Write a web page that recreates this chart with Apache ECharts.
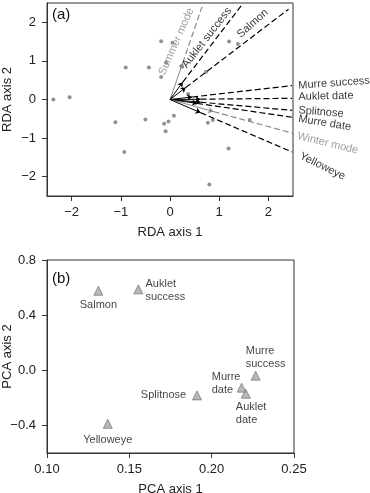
<!DOCTYPE html>
<html>
<head>
<meta charset="utf-8">
<script src="https://cdn.jsdelivr.net/npm/echarts@6/dist/echarts.min.js"></script>
<style>html,body{margin:0;padding:0;background:#fff}#c{width:370px;height:493px}</style>
</head>
<body>
<div id="c"></div>
<script>
// ---- Panel (a): RDA site scores ----
const siteX = [-2.37,-2.04,-0.90,-0.43,-0.18,0.05,-0.08,-0.18,0.24,1.20,1.38,0.73,0.37,-1.11,-0.93,-0.50,-0.12,-0.03,-0.09,0.08,0.77,0.87,1.62,1.19,0.80];
const siteY = [0.00,0.06,0.83,0.83,1.51,1.47,0.95,0.58,0.85,1.50,1.44,0.71,0.14,-0.59,-1.36,-0.52,-0.63,-0.57,-0.82,-0.42,-0.60,-0.53,-0.53,-1.27,-2.20];

// ---- Panel (a): RDA vectors ----
const vecNames  = ['Summer mode','Auklet success','Salmon','Murre success','Auklet date','Splitnose','Murre date','Winter mode','Yelloweye'];
const vecArrowX = [0.26, 0.26, 0.32, 0.45, 0.62, 0.62, 0.55, 0.88, 0.62];
const vecArrowY = [0.95, 0.45, 0.31, 0.065, 0.008, -0.07, -0.10, -0.31, -0.34];
const vecEndX   = [0.65, 1.46, 2.41, 2.48, 2.48, 2.48, 2.48, 2.48, 2.48];
const vecEndY   = [2.40, 2.45, 2.34, 0.36, 0.03, -0.28, -0.46, -0.87, -1.36];

const rdaXTicks = [-2,-1,0,1,2];
const rdaYTicks = [-2,-1,0,1,2];

// ---- Panel (b): PCA loadings ----
const pcaNames = ['Salmon','Auklet success','Murre success','Murre date','Auklet date','Splitnose','Yelloweye'];
const pcaX = [0.1312, 0.1555, 0.2267, 0.2182, 0.2207, 0.1911, 0.1369];
const pcaY = [0.577, 0.587, -0.039, -0.126, -0.170, -0.182, -0.388];
const pcaXTicks = [0.10,0.15,0.20,0.25];
const pcaYTicks = [-0.4,0.0,0.4,0.8];

// ---- layout/style (not data) ----
const FONT = 'Liberation Sans, Arial, sans-serif';
const grayVec = ['Summer mode','Winter mode'];
const vecColor = n => grayVec.includes(n) ? '#888' : '#000';
const vecLabelLayout = {
  'Summer mode':    {x:0.13, y:1.50, rot:66, align:'center'},
  'Auklet success': {x:0.75, y:1.60, rot:52, align:'center'},
  'Salmon':         {x:1.68, y:1.97, rot:42, align:'center'},
  'Murre success':  {x:2.61, y:0.36, rot:4,  align:'left'},
  'Auklet date':    {x:2.61, y:0.065,rot:1.5,align:'left'},
  'Splitnose':      {x:2.61, y:-0.28,rot:-4.5,align:'left'},
  'Murre date':     {x:2.61, y:-0.50,rot:-9, align:'left'},
  'Winter mode':    {x:2.59, y:-0.94,rot:-14,align:'left'},
  'Yelloweye':      {x:2.65, y:-1.45,rot:-26,align:'left'}
};
const pcaLabelLayout = {
  'Salmon':         {text:'Salmon', position:'bottom', distance:3, align:'center'},
  'Auklet success': {text:'Auklet\nsuccess', position:[12,-7], align:'left', verticalAlign:'top'},
  'Murre success':  {text:'Murre\nsuccess', position:[-5,-26], align:'left', verticalAlign:'top'},
  'Murre date':     {text:'Murre\ndate', position:[-25,-12], align:'left', verticalAlign:'top'},
  'Auklet date':    {text:'Auklet\ndate', position:[-5,12], align:'left', verticalAlign:'top'},
  'Splitnose':      {text:'Splitnose', position:'left', distance:6, align:'right'},
  'Yelloweye':      {text:'Yelloweye', position:'bottom', distance:5, align:'center'}
};

const minus = s => String(s).replace('-', '\u2212');

const axisCommon = {
  axisLine:{show:true, onZero:false, lineStyle:{color:'#333', width:1}},
  splitLine:{show:false},
  nameLocation:'middle',
  nameMoveOverlap:false,
  nameTextStyle:{fontFamily:FONT, fontSize:13, color:'#222'}
};

const chart = echarts.init(document.getElementById('c'), null, {renderer:'canvas'});

const dashedData = vecNames.map((n,i)=>({coords:[[vecArrowX[i],vecArrowY[i]],[vecEndX[i],vecEndY[i]]], lineStyle:{color:vecColor(n)}}));
const arrowData = vecNames.map((n,i)=>({coords:[[0,0],[vecArrowX[i],vecArrowY[i]]], lineStyle:{color:vecColor(n)}}));
const vecLabelData = vecNames.map(n=>{
  const L = vecLabelLayout[n];
  return {value:[L.x,L.y], label:{show:true, formatter:n, rotate:L.rot, align:L.align, verticalAlign:'middle', position:'inside', color:vecColor(n)}};
});
const pcaData = pcaNames.map((n,i)=>{
  const L = pcaLabelLayout[n];
  const lab = {show:true, formatter:L.text, position:L.position, align:L.align};
  if (L.distance !== undefined) lab.distance = L.distance;
  if (L.verticalAlign) lab.verticalAlign = L.verticalAlign;
  return {value:[pcaX[i],pcaY[i]], label:lab};
});

chart.setOption({
  animation:false,
  textStyle:{fontFamily:FONT},
  grid:[
    {left:47, top:3, width:246, height:193, show:true, borderColor:'#333', borderWidth:1, backgroundColor:'transparent', containLabel:false, outerBoundsMode:'none'},
    {left:47, top:260, width:247, height:193, show:true, borderColor:'#333', borderWidth:1, backgroundColor:'transparent', containLabel:false, outerBoundsMode:'none'}
  ],
  xAxis:[
    Object.assign({}, axisCommon, {gridIndex:0, type:'value', min:-2.5, max:2.5, name:'RDA axis 1', nameGap:30,
      axisTick:{show:true, length:5, customValues:rdaXTicks, lineStyle:{color:'#333'}},
      axisLabel:{fontFamily:FONT, fontSize:13, color:'#222', margin:10, customValues:rdaXTicks, formatter:v=>minus(v)}}),
    Object.assign({}, axisCommon, {gridIndex:1, type:'value', min:0.10, max:0.25, name:'PCA axis 1', nameGap:30,
      axisTick:{show:true, length:5, customValues:pcaXTicks, lineStyle:{color:'#333'}},
      axisLabel:{fontFamily:FONT, fontSize:13, color:'#222', margin:10, customValues:pcaXTicks, formatter:v=>v.toFixed(2)}})
  ],
  yAxis:[
    Object.assign({}, axisCommon, {gridIndex:0, type:'value', min:-2.5, max:2.5, name:'RDA axis 2', nameGap:33,
      axisTick:{show:true, length:5, customValues:rdaYTicks, lineStyle:{color:'#333'}},
      axisLabel:{fontFamily:FONT, fontSize:13, color:'#222', margin:11, customValues:rdaYTicks, formatter:v=>minus(v)}}),
    Object.assign({}, axisCommon, {gridIndex:1, type:'value', min:-0.6, max:0.8, name:'PCA axis 2', nameGap:33,
      axisTick:{show:true, length:5, customValues:pcaYTicks, lineStyle:{color:'#333'}},
      axisLabel:{fontFamily:FONT, fontSize:13, color:'#222', margin:11, customValues:pcaYTicks, formatter:v=>minus(v.toFixed(1))}})
  ],
  series:[
    {type:'scatter', xAxisIndex:0, yAxisIndex:0, symbol:'circle', symbolSize:4, itemStyle:{color:'#777'},
      data:siteX.map((x,i)=>[x,siteY[i]]), silent:true, z:2},
    {type:'lines', coordinateSystem:'cartesian2d', xAxisIndex:0, yAxisIndex:0, polyline:false,
      lineStyle:{width:1.2, type:[6,3], opacity:1}, symbol:['none','none'], data:dashedData, silent:true, z:3},
    {type:'lines', coordinateSystem:'cartesian2d', xAxisIndex:0, yAxisIndex:0, polyline:false,
      lineStyle:{width:1, type:'solid', opacity:1}, symbol:['none','arrow'], symbolSize:5, data:arrowData, silent:true, z:4},
    {type:'scatter', xAxisIndex:0, yAxisIndex:0, symbolSize:0, clip:false, silent:true, z:5,
      label:{fontFamily:FONT, fontSize:11}, data:vecLabelData},
    {type:'scatter', xAxisIndex:1, yAxisIndex:1, symbol:'triangle', symbolSize:9, silent:true,
      itemStyle:{color:'#a6a6a6', borderColor:'#666', borderWidth:0.8},
      label:{fontFamily:FONT, fontSize:11, color:'#111', lineHeight:13}, data:pcaData}
  ],
  graphic:[
    {type:'text', left:52, top:7, style:{text:'(a)', font:'15px '+FONT, fill:'#111'}},
    {type:'text', left:52, top:271, style:{text:'(b)', font:'15px '+FONT, fill:'#111'}}
  ]
});
</script>
</body>
</html>
